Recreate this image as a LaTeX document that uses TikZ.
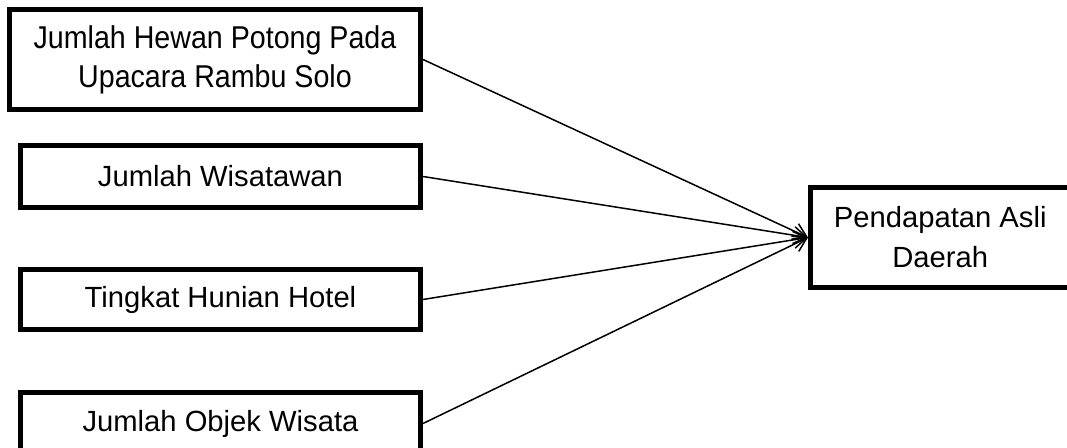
\documentclass[tikz,border=0pt]{standalone}
\usepackage{fontspec}
\setmainfont{Liberation Sans}
\usetikzlibrary{arrows.meta}
\begin{document}
\begin{tikzpicture}[x=0.5pt,y=-0.5pt,
  box/.style={draw=black, line width=2.5pt, rectangle, inner sep=0pt, align=center,
    font=\fontsize{14.6pt}{19pt}\selectfont},
  link/.style={draw=black, line width=0.75pt, -{Straight Barb[length=6.5pt,width=8.5pt,line width=0.75pt]}}]
\useasboundingbox (0,0) rectangle (1067,448);
\clip (0,0) rectangle (1067,448);
\node[box, minimum width=205.5pt, minimum height=50pt, font=\fontsize{14.6pt}{19.5pt}\selectfont] (b1) at (215,59.5) {\scalebox{0.98}[1.08]{Jumlah Hewan Potong Pada}\\\scalebox{0.98}[1.08]{Upacara Rambu Solo}};
\node[box, minimum width=200pt, minimum height=31pt] (b2) at (220.5,176.5) {Jumlah Wisatawan};
\node[box, minimum width=200pt, minimum height=30pt] (b3) at (220.5,299.5) {Tingkat Hunian Hotel};
\node[box, minimum width=200pt, minimum height=31pt] (b4) at (220.5,423.5) {Jumlah Objek Wisata};
\node[box, minimum width=129.75pt, minimum height=50pt, font=\fontsize{14.6pt}{20pt}\selectfont] (t) at (940.25,237.5) {Pendapatan Asli\\Daerah};
\draw[link] (b1.east) -- (t.west);
\draw[link] (b2.east) -- (t.west);
\draw[link] (b3.east) -- (t.west);
\draw[link] (b4.east) -- (t.west);
\end{tikzpicture}
\end{document}
